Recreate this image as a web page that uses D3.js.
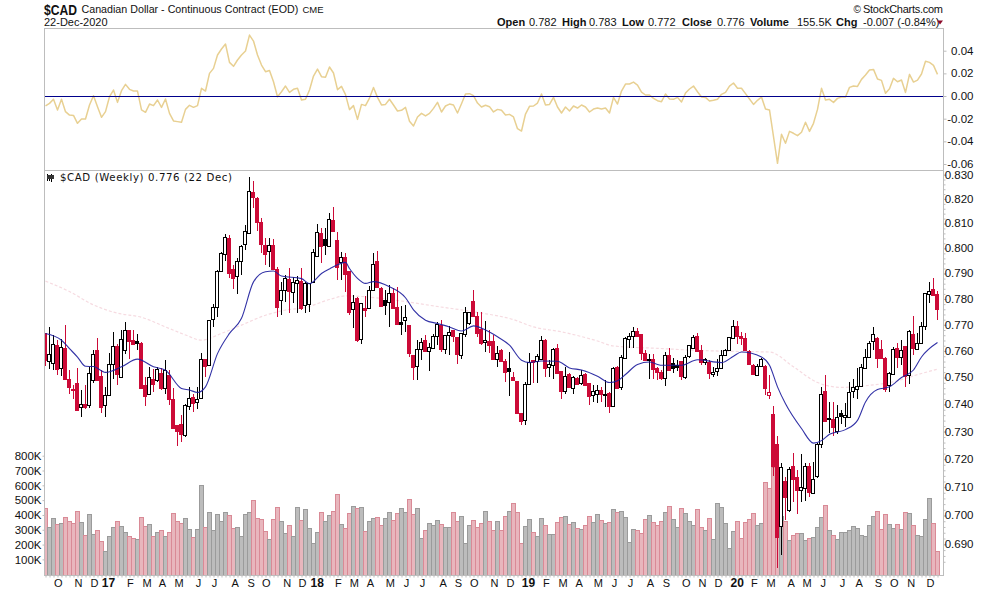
<!DOCTYPE html>
<html><head><meta charset="utf-8">
<script src="https://cdn.jsdelivr.net/npm/d3@7/dist/d3.min.js"></script>
<style>html,body{margin:0;padding:0;background:#fff}svg{display:block}text{font-family:"Liberation Sans",Arial,sans-serif;fill:#111}</style>
</head><body><svg id="c" width="990" height="591"></svg>
<script>
// Weekly $CAD values, prices in thousandths
const weekTypes = "RHHRHRRRRH"+"RHHRRHHHRH"+"HRRKRRHRHR"+"HRRRRHHRHH"+"RHHHHHRRHH"+"HHRRRRHRRH"+"HRHHRHHHHR"+"KHRRHRRHRH"+"RHHRRKHRRK"+"HRRHHRHHHR"+"HHRRHHHRRR"+"HRRHRRKRRR"+"HHRHHRHHRR"+"HRHRHRRHHR"+"KRHRHHHHRR"+"RKRRRHRKKR"+"HHHRRHRHHH"+"HHHRRRRRHH"+"RrRRHRHRRH"+"HRHHHRKRHK"+"HHHHHHHHRR"+"RHHRHRHRHH"+"HHRR";
const highs = [766.9,769,766,764.2,764.7,769.9,752.7,747,753.7,745.2,
747,754,760.3,764.9,752.7,746.5,759.2,767.3,762.6,768.2,
770.9,768,768.2,766.4,763.5,750,753.8,753.2,754,753.4,
756.5,752.7,745.9,732.3,736.2,740.2,746.5,743.9,746.5,759.3,
757.1,771.9,778,791.3,798.7,805.6,805.3,793.4,796,801.3,
809.3,828.9,827.4,821,812.3,804,804,803.6,792.7,786.7,
789.4,792,788.8,789,792.1,786.5,786.3,799.6,809.8,808,
808,814.1,816.6,806.4,798.7,798.3,791,781.6,780.7,778.6,
781.2,785.1,798,798.9,784.6,783.5,785.4,784.2,784.6,777.3,
777.7,770.1,758.5,764,765.1,766.2,762.9,766.6,771.2,771.8,
766,769.6,768,765.3,767,777,775,783.5,775.1,775.1,
771.4,768,766,761.8,760.9,756.8,759.6,752.1,748.8,736.8,
748.3,759.4,756.4,759,765.6,764.4,756.5,761.3,762.6,752.6,
753.8,751.5,750.5,750.2,752.8,751.5,748,747.1,747.1,746.5,
748.9,744.4,753.8,754.3,758.4,765.4,766.7,769,768.6,766.4,
760.5,759,759,753.8,752.8,759.6,761.1,757.5,756.5,756.1,
758.6,762.1,766,766.7,762.1,757.5,756.5,754,757,760.3,
760.9,765.4,771.8,771.4,767.3,766.7,760.3,755.2,755.2,757.5,
754.6,750.9,739.3,728.3,718.7,713.7,717.3,722.3,716.1,721.8,
718.5,718.5,719,725.7,746.3,750.9,740.9,740.9,739.6,737.8,
740.5,748.4,749.6,753.4,755.2,760.9,763.8,769.2,765.4,764,
757.7,752.1,761.6,763.1,764,761.8,768,773.3,766.7,771.1,
782.5,786.8,788.1,783];
const bodyTops = [766.7,759,762.6,762.2,761.5,761,749.6,745.8,747.8,740.2,
740.2,751.5,759,760.5,750.5,743.6,755.2,761.9,761.8,764.4,
768,768,764.1,763.8,762.9,747.1,750,749.6,753.1,751.7,
752.7,750.9,741.9,732.3,732.7,739.9,742.5,742.8,742.1,757.1,
757.1,771.9,776.8,790.9,798,804.4,804.1,791.9,794.8,800.8,
806.8,823.2,822.9,820.5,810.7,801.3,801.2,801.3,791.8,783.4,
788.4,787.7,786.8,787.5,787.1,786.1,786.1,798.4,806.4,806.3,
803.6,811.7,811.4,803.4,796.4,796.4,791,778.7,780.5,778.3,
776.6,783.5,793.6,794.9,784.2,779.6,782.2,782.4,776.8,771.2,
773,770.1,758.4,760.9,763.6,764.1,761.5,765.6,770.5,769.9,
766,767.3,768,765.3,767,774.8,774.8,779.2,773.4,768.3,
764.1,763.8,763.8,759.4,760.3,756.1,753.7,750,748.6,736.7,
747.4,755.9,756.4,758.2,764.3,764.3,754.9,760.9,761.3,752.5,
750.4,751.3,750.1,749.9,750.8,751.3,747.8,745,745.5,745.5,
744,744.1,753.4,753.8,757.9,765.1,765.8,767.8,767.8,766.4,
759.4,757.1,757,753.4,752.1,758.6,758.6,755.5,754.8,756.1,
757.9,762.1,765.5,765.6,760.5,757,755.9,752.1,753.4,758.4,
760.3,765.3,769.5,769.5,765.7,764.9,759.9,754.6,754.2,756.9,
754.2,744.4,736.3,725.4,717.3,712.1,716.3,717.5,713.5,710,
717.5,717.5,713,725.4,744,744.9,735,734.5,735.4,736.8,
736.2,744.6,746.5,746.8,753.8,757.7,763.2,766.4,765,760.9,
757.5,751.5,760.9,761.3,760.5,761.8,767.6,766.4,763.1,769.5,
782.2,783,783.8,782];
const bodyBottoms = [756.5,756.2,755.5,753,753.7,749.2,746.5,745.3,737.6,739,
739,739.6,749.2,749.2,738.8,739.9,743.6,755.2,751.2,750.2,
760.3,763.6,762.7,763.1,745.9,743,743.6,747.8,749,745.9,
745.9,741.9,731.3,730.2,729,729,739.6,740.5,740.9,742.4,
754.6,754.6,772.1,776.8,791,797.7,790.3,788.3,788.7,795,
801.5,806,821,810.7,801.7,797.9,798.8,791.8,776.8,779.6,
783.5,783.1,782.9,786.4,776.4,777.4,777.7,786.4,796.7,801,
801,801,807.1,792.7,794.6,789.7,775.1,776,764.1,764.4,
776,776.4,783.5,784.8,777,777.8,778.7,776.4,770.3,770.6,
771.7,759.3,753.7,754.3,760.9,760,760,761.2,766,760.6,
760.5,766,765.8,759,758.6,766.4,770.6,773.5,766.7,762.9,
763.2,762.2,757,757.1,756.2,752.1,752.5,748.8,736.8,733.9,
734,747.8,755.8,756.4,757.1,753.6,753.7,754.9,751.9,745,
744.8,746.5,745.9,747.8,747.8,747.1,743.1,743.4,744,744,
743.6,739.4,739.4,746.1,746.5,757.5,764.7,765.7,765.8,759.3,
756.9,756.9,753.4,751.8,750,750,753.1,753.6,754,750.3,
750.4,758,761.3,760,755.9,755.9,751.7,751.3,752.1,753.4,
758.4,760.3,764.8,765.7,764.8,760.3,755,751.3,750.9,754.2,
745.8,743.1,717.3,692.6,696.4,706.6,701.7,712.9,708.8,708.8,
709.6,708.4,708.2,713.9,725.7,733.9,734.6,731.7,730.2,735.6,
735.4,735.4,745,745.5,746.5,753.7,758,763.9,757.5,757.5,
745.9,747.1,751.5,758,757.7,750.3,750.9,760.9,760.9,763.1,
769.5,782,781.6,776];
const lows = [754.5,753,752.7,750.9,750.5,749,743.8,742,737.5,735.4,
738.4,738.8,747.8,749,736.8,735.4,743.4,749.6,747.1,750,
759,757.1,762.2,760.3,745.6,739.3,743.4,744.6,748.4,745.5,
743.8,739.6,731,724.7,726.2,728,737.8,737.2,738.4,742.1,
750,754.3,769,773.1,790.8,795,788.4,783.8,782,789.3,
799.3,806,816.2,807.1,798,793.4,792.7,791.4,773,773.8,
779,774.5,778.3,774.4,775.7,774.4,774.8,786.1,796.4,794.3,
797.4,800.9,806.8,787.4,787.4,782.9,773.8,768.9,763.5,762.8,
773,776,783.2,784.5,776.8,773.8,769.2,776,769.9,766,
767.3,757.8,749,749,756.5,759.6,752.5,760.8,762.2,759.6,
758.7,758.6,763.5,755.2,757.1,765.4,769.8,773.1,765.4,762.3,
759.7,759.3,756.8,753.8,755.8,748.3,743.1,748.8,736.6,732.3,
732.3,747.5,748,747.9,756.8,750.2,750.2,749.6,751.5,741.9,
743.7,746.1,744,747.5,747.1,746.9,739.6,740.9,740.5,740.9,
739,736.8,739,745.9,745.2,757.1,761.3,761.3,765.4,756.5,
756.8,749.5,749.5,749,749,746.9,752.7,751.6,752.4,749,
749.4,757.5,761,759.6,754.6,754.8,749.6,750.3,750.5,753.1,
758,760,764.5,762.8,762.2,760,754.6,750.9,750.5,754,
743.6,741.9,714,681.9,686.4,698.4,701.3,704.8,700.7,704.8,
705.2,706.6,707.9,713.3,724.1,733.5,729.3,728.4,729,732.9,
731.7,734.8,742.3,742,746.3,753.4,757.7,760.3,753.7,757.2,
744.6,744.6,751.3,753.7,754.6,746.5,747.5,758.4,760.3,762.6,
768.2,778.6,781.2,772];
const volumesK = [450,320,380,340,345,385,360,345,425,350,
265,405,270,300,225,160,258,318,360,325,
285,258,245,238,385,325,340,258,285,298,
258,285,415,358,345,378,305,250,305,603,
318,418,300,405,358,418,398,312,320,258,
405,420,500,378,372,292,240,372,452,358,
278,332,258,452,365,440,312,212,285,420,
358,397,424,539,337,310,411,458,445,451,
289,357,377,384,330,377,418,364,411,445,
418,505,404,445,242,296,343,330,364,337,
316,316,418,357,391,208,330,364,316,343,
424,357,296,357,296,391,424,478,418,208,
323,370,283,256,377,330,269,269,350,384,
391,337,350,310,303,330,391,350,404,364,
343,350,438,418,424,384,215,303,296,276,
370,397,350,330,357,418,459,371,317,450,
412,357,330,438,317,297,378,236,479,452,
344,175,290,357,243,351,371,412,330,344,
621,580,727,640,391,357,229,263,277,277,
229,243,250,317,384,466,297,263,236,283,
283,297,324,310,263,256,330,391,427,303,
405,337,310,337,303,418,412,330,263,256,
371,513,344,155];
const oscillatorMilli = [-8.8,-6.5,-2.9,-12.3,-2.9,-13.8,-16.8,-17.1,-24.1,-20.3,
-20.3,-7.9,0.3,-9.4,-18.8,-13.8,-0.6,5.3,-5.6,4.7,
10.3,5.9,4.4,4.4,-12.3,-14.4,-7.1,-8.5,-3.5,-10,
-2.6,-15.3,-22,-22.6,-23.2,-11.8,-8.2,-10,-8.5,6.8,
4.4,20,24.4,36.2,41.5,45.9,29.7,26.2,31.8,36.2,
39.7,53.8,48.5,36.2,27.3,21.5,22.6,12.6,-0.6,3.8,
8.8,3.2,5.9,6.8,-3.5,-2.9,5.3,17.6,23.8,17.1,
16.5,25.6,20.3,5.6,8.5,1.2,-12,-8.5,-20.6,-7.4,
-8.5,-1.8,7.6,-1.2,-7.9,-7.4,-2.9,-7.9,-13.2,-12.6,
-10,-22.3,-26.5,-18.5,-15.3,-17.6,-15.3,-10.9,-5.6,-14.1,
-8.8,-7.1,-7.9,-15,-6.8,1.8,2.1,0.3,-6.2,-9.7,
-8.2,-9.4,-14.1,-11.8,-12.6,-16.8,-16.2,-18.5,-28.8,-30.9,
-15.9,-9.1,-8.8,-6.2,1.8,-7.9,-7.4,-1.2,-9.7,-15,
-9.7,-13.2,-8.8,-10.6,-7.9,-9.7,-14.1,-11.5,-10.6,-11.5,
-10.6,-15,-1.2,-7.1,4.4,10.6,10.6,12.3,9.7,3.5,
0.9,0.9,-2.1,-4.1,-5,1.8,-2.6,-2.9,-1.2,-5.3,
2.6,6.2,8.8,3.8,-0.9,-1.2,-4.4,-3.8,-2.9,1.5,
3.2,8.8,11.5,6.8,6.8,2.1,-2.6,-7.4,-3.8,-0.9,
-11.5,-12.3,-35.9,-59.4,-33.8,-41.7,-31.2,-32.9,-35,-32,
-23.2,-31.2,-24.1,-11.8,6.8,-3.5,-2.9,-5.6,-2.1,-0.9,
-0.9,7.6,8.8,8.5,14.7,18.5,22.9,23.5,15,13.8,
2.4,6.5,15.6,12.6,14.1,3.2,19.1,12.3,14.1,19.4,
30.6,29.7,27,19.1];
// Short moving average, read at these weeks
const shortMaWeeks = [0,4,6,8,10,12,15,19,23,27,30,34,36,38,40,43,46,49,52,55,57,59,64,66,69,71,75,76,78,80,82,86,90,92,95,98,101,104,107,110,113,116,119,121,124,128,131,134,138,141,143,145,148,151,153,154,159,163,169,172,174,179,181,183,185,189,192,194,196,200,203,205,208,211,214,217,219,223];
const shortMaValues = [766.7,764.1,760.9,757.7,754.2,754.1,751.9,754,756.9,754,752.7,745.9,745.3,744.4,746.5,759,766.7,772.5,786.7,790.7,791,789,788,786,790,791.8,794.4,792,788.1,786.1,786.8,784.8,780.5,775.8,771.8,770.5,769.2,767.6,769.6,768,765.4,762.2,756.5,755.6,756.2,756.1,753.6,752.8,750.5,748.1,748.8,751.1,754.9,755.8,754.9,754.6,754.6,756.7,755.6,758,759.6,757.7,754.6,746.5,740.2,731.1,725.8,726.7,729,730.7,734.1,740.9,745.5,746.5,750,752.8,757.7,763.2];
// Long moving average, read at these weeks
const longMaWeeks = [0,6,12,18,24,30,35,39,44,49,55,60,65,71,75,90,97,108,117,122,129,138,142,153,162,170,181,187,193,199,205,212,219,223];
const longMaValues = [787,782.9,777.7,774.5,772.9,769.2,766.1,764.1,766.7,769.9,773.7,775.7,776.7,779.8,781.2,779,777.3,774.8,772,769.2,767.3,763.8,761.9,761,760.3,759.9,759.6,754,748.1,746.3,746.9,748.4,751.5,753.1];
const priceTicks = [0.83,0.82,0.81,0.80,0.79,0.78,0.77,0.76,0.75,0.74,0.73,0.72,0.71,0.70,0.69];
const oscTicks = [0.04,0.02,0,-0.02,-0.04,-0.06];
const volTicks = [100,200,300,400,500,600,700,800];
const monthLabels = ["O","N","D","17","F","M","A","M","J","J","A","S","O","N","D","18","F","M","A","M","J","J","A","S","O","N","D","19","F","M","A","M","J","J","A","S","O","N","D","20","F","M","A","M","J","J","A","S","O","N","D"];
const monthWeeks = [3.1,8.1,12.1,15.6,21.1,25.3,29.1,33.3,38.1,42.1,47.3,51.3,55.1,60.3,64.1,67.8,73.1,77.1,81.1,86.1,90.1,94.1,99.3,103.1,107.1,112.1,116.1,120.6,125.1,129.3,133.3,138.1,142.1,146.1,151.1,155.1,160.1,164.1,168.1,172.8,177.1,181.3,186.3,190.3,194.3,199.1,203.3,208.1,212.1,216.3,221.1];

const L=44.5,R=943.5,T=28.5,M=170.5,B=575.5;
const RED="#cc0a37",FRAME="#bdbdbd";
const svg=d3.select("#c");
const defs=svg.append("defs");
defs.append("clipPath").attr("id","pc").append("rect").attr("x",L).attr("y",M).attr("width",R-L).attr("height",B-M);
defs.append("clipPath").attr("id","oc").append("rect").attr("x",L).attr("y",T).attr("width",R-L).attr("height",M-T);

const x=d3.scaleLinear().domain([0,223]).range([45.5,937.5]);
const yP=d3.scaleLog().domain([0.83,0.69]).range([174.7,544.3]);
const yV=d3.scaleLinear().domain([0,800]).range([574.2,455.7]);
const yO=d3.scaleLinear().domain([0.04,-0.06]).range([50.7,164]);
const isRed=t=>t==="R"||t==="r";
const weeks=d3.range(weekTypes.length);

// volume
const pv=svg.append("g").attr("clip-path","url(#pc)");
pv.selectAll("rect.v").data(weeks).join("rect").attr("class","v")
 .attr("shape-rendering","crispEdges")
 .attr("x",i=>x(i)-2).attr("width",4)
 .attr("y",i=>Math.round(yV(volumesK[i]))+.5).attr("height",i=>yV(0)-yV(volumesK[i])+1)
 .attr("fill",i=>isRed(weekTypes[i])?"#e8b6bd":"#bcbcbc")
 .attr("stroke",i=>isRed(weekTypes[i])?"#d98a96":"#9b9b9b").attr("stroke-width",1);

// long MA
const mkLine=(ws,vs,curve)=>d3.line().x((d,i)=>x(ws[i])).y(d=>yP(d/1000)).curve(curve)(vs);
pv.append("path").attr("d",mkLine(longMaWeeks,longMaValues,d3.curveMonotoneX))
 .attr("fill","none").attr("stroke","#f6dbe1").attr("stroke-width",1.2).attr("stroke-dasharray","3,2");

// candles
const cg=pv.append("g").attr("shape-rendering","crispEdges");
const col=i=>isRed(weekTypes[i])?RED:"#000";
cg.selectAll("line.w").data(weeks).join("line").attr("class","w")
 .attr("x1",i=>x(i)).attr("x2",i=>x(i))
 .attr("y1",i=>yP(highs[i]/1000)).attr("y2",i=>yP(lows[i]/1000))
 .attr("stroke",col).attr("stroke-width",1);
cg.selectAll("rect.b").data(weeks).join("rect").attr("class","b")
 .attr("x",i=>x(i)-2).attr("width",3)
 .attr("y",i=>Math.round(yP(bodyTops[i]/1000))+.5)
 .attr("height",i=>Math.max(1,Math.round(yP(bodyBottoms[i]/1000)-yP(bodyTops[i]/1000))))
 .attr("fill",i=>(weekTypes[i]==="H"||weekTypes[i]==="r")?"#fff":col(i))
 .attr("stroke",col).attr("stroke-width",1);

// short MA
pv.append("path").attr("d",mkLine(shortMaWeeks,shortMaValues,d3.curveMonotoneX))
 .attr("fill","none").attr("stroke","#1c1c9c").attr("stroke-width",1.1).attr("opacity",0.9);

// oscillator
const po=svg.append("g").attr("clip-path","url(#oc)");
po.append("path").attr("d",d3.line().x((d,i)=>x(i)).y(d=>yO(d/1000))(oscillatorMilli))
 .attr("fill","none").attr("stroke","#e8d092").attr("stroke-width",1.5).attr("stroke-linejoin","round");
svg.append("line").attr("x1",L).attr("x2",R+2).attr("y1",yO(0)).attr("y2",yO(0)).attr("stroke","#00008b").attr("stroke-width",1).attr("shape-rendering","crispEdges");

// frame
svg.append("rect").attr("x",L).attr("y",T).attr("width",R-L).attr("height",B-T).attr("fill","none").attr("stroke",FRAME);
svg.append("line").attr("x1",L).attr("x2",R).attr("y1",M).attr("y2",M).attr("stroke",FRAME);

// axes
function styleAxis(g,size){g.select(".domain").remove();g.selectAll("line").attr("stroke",FRAME);g.selectAll("text").attr("font-size",size).attr("fill","#111").attr("font-family",'"Liberation Sans",Arial,sans-serif');}
const gPminor=svg.append("g").attr("transform",`translate(${R},0)`).call(d3.axisRight(yP).tickValues(d3.range(0.684,0.8301,0.002)).tickSize(2).tickFormat(""));
styleAxis(gPminor,0);
const gP=svg.append("g").attr("transform",`translate(${R},0)`).call(d3.axisRight(yP).tickValues(priceTicks).tickSize(3).tickPadding(0).tickFormat(d3.format(".3f")));
styleAxis(gP,11.5);gP.selectAll("text").attr("text-anchor","end").attr("x",30).attr("dy","0.3em");
const gO=svg.append("g").attr("transform",`translate(${R},0)`).call(d3.axisRight(yO).tickValues(oscTicks).tickSize(3).tickPadding(0).tickFormat(d3.format(".2f")));
styleAxis(gO,11.5);gO.selectAll("text").attr("text-anchor","end").attr("x",30).attr("dy","0.3em").text((d)=>d3.format(".2f")(d).replace("\u2212","-"));
const gV=svg.append("g").attr("transform",`translate(${L},0)`).call(d3.axisLeft(yV).tickValues(volTicks).tickSize(2).tickPadding(1).tickFormat(d=>d+"K"));
styleAxis(gV,11.5);
const gXminor=svg.append("g").attr("transform",`translate(0,${B})`).call(d3.axisBottom(x).tickValues(weeks).tickSize(2).tickFormat(""));
styleAxis(gXminor,0);
const gX=svg.append("g").attr("transform",`translate(0,${B})`).call(d3.axisBottom(x).tickValues(monthWeeks).tickSize(0).tickPadding(0).tickFormat((d,i)=>monthLabels[i]));
styleAxis(gX,11);
gX.selectAll("text").attr("y",0).attr("dy",11.7).attr("font-weight",(d,i)=>/\d/.test(monthLabels[i])?"bold":"normal").attr("font-size",(d,i)=>/\d/.test(monthLabels[i])?12:11);

// header
const tx=(s,xp,yp,size,w,extra)=>{const t=svg.append("text").attr("x",xp).attr("y",yp).attr("font-size",size).attr("font-weight",w||"normal").text(s);if(extra)extra(t);return t;};
tx("$CAD",44,14.5,15,"bold",t=>t.attr("textLength",33).attr("lengthAdjust","spacingAndGlyphs"));
tx("Canadian Dollar - Continuous Contract (EOD)",81.5,13,10.7);
tx("CME",302.5,13,9.5);
tx("22-Dec-2020",44,26,11);
const hdr=[["Open",497,1],["0.782",529],["High",562,1],["0.783",589],["Low",622,1],["0.772",648],["Close",682,1],["0.776",717],["Volume",750,1],["155.5K",797],["Chg",836,1],["-0.007 (-0.84%)",863]];
hdr.forEach(h=>tx(h[0],h[1],26,11,h[2]?"bold":"normal"));
svg.append("path").attr("d",d3.line()([[937,20.5],[943,20.5],[940,24.5]])).attr("fill","#8b0a2a");
tx("\u00A9",853.5,13,10);
tx("StockCharts.com",863,13,11,"normal",t=>t.attr("fill","#555").attr("textLength",80));

// legend
const ig=svg.append("g").attr("shape-rendering","crispEdges");
[[47,173.5,180.5,"#000"],[49,175.5,180.5,"#000"],[51,173.5,181.5,"#000"],[53,175,179,"#000"]].forEach(a=>ig.append("line").attr("x1",a[0]+.5).attr("x2",a[0]+.5).attr("y1",a[1]).attr("y2",a[2]).attr("stroke",a[3]));
ig.append("rect").attr("x",47).attr("y",175).attr("width",7).attr("height",4).attr("fill","#333");
tx("$CAD (Weekly) 0.776 (22 Dec)",60,181,10.2,"normal",t=>t.style("font-family",'"DejaVu Sans"').attr("textLength",172));
</script></body></html>
